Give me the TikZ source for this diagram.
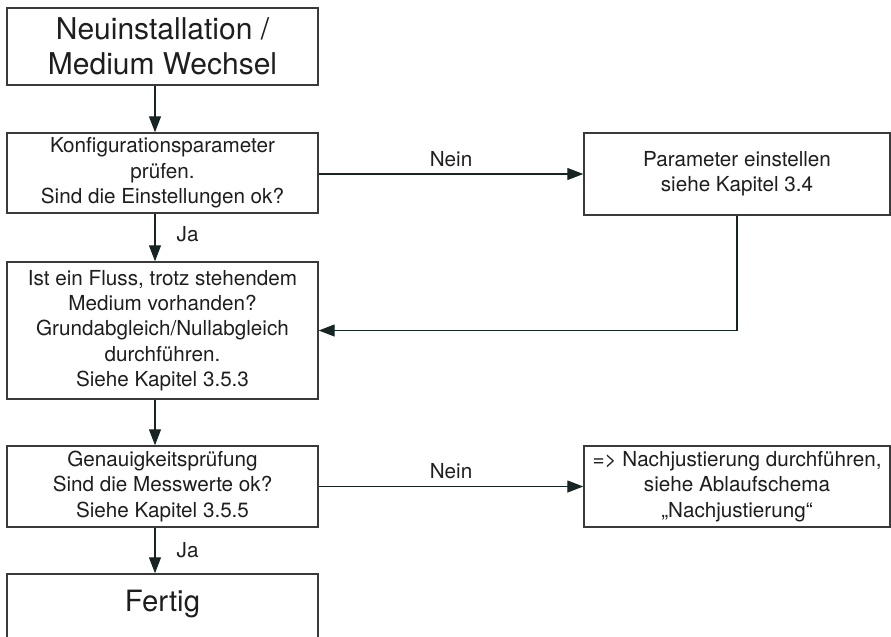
\documentclass[tikz,border=0pt]{standalone}
\usepackage{fontspec}
\setmainfont{TeX Gyre Heros}
\usetikzlibrary{arrows.meta}

\definecolor{linegray}{RGB}{22,36,36}
\definecolor{framegray}{RGB}{58,58,58}
\definecolor{textgray}{RGB}{30,30,30}

\begin{document}
\begin{tikzpicture}[x=0.75pt, y=-0.75pt,
    flow/.style={draw=linegray, line width=1pt,
        -{Triangle[length=12pt, width=9pt]}},
    stepbox/.style={draw=framegray, line width=1.1pt, fill=white,
        inner sep=0pt, align=center, text=textgray,
        font=\fontsize{15.5pt}{19pt}\selectfont, minimum width=233.25pt},
    big stepbox/.style={stepbox, font=\fontsize{22.5pt}{26.5pt}\selectfont},
    side stepbox/.style={stepbox, minimum width=229.5pt},
    answer/.style={font=\fontsize{15.5pt}{19pt}\selectfont, text=textgray,
        inner sep=0pt}
]
\path[use as bounding box] (0,0) rectangle (891,636);

% main column
\coordinate (col) at (155,0);

\node[big stepbox, minimum height=57.75pt] (start) at (162.5,46.5)
    {Neuinstallation /\\Medium Wechsel};
\node[stepbox, minimum height=60pt] (config) at (162.5,173)
    {Konfigurationsparameter\\prüfen.\\Sind die Einstellungen ok?};
\node[stepbox, minimum height=102.75pt] (flow-check) at (162.5,330.5)
    {Ist ein Fluss, trotz stehendem\\Medium vorhanden?\\
     Grundabgleich/Nullabgleich\\durchführen.\\Siehe Kapitel 3.5.3};
\node[stepbox, minimum height=60.75pt] (accuracy) at (162.5,486.5)
    {Genauigkeitsprüfung\\Sind die Messwerte ok?\\Siehe Kapitel 3.5.5};
\node[big stepbox, anchor=base, text height=27.75pt, text depth=37.5pt,
    font=\fontsize{22pt}{26pt}\selectfont] (done) at (162.5,611) {Fertig};

% side column
\node[side stepbox, minimum height=61.5pt] (param) at (737,174)
    {Parameter einstellen\\siehe Kapitel 3.4};
\node[side stepbox, minimum height=60.75pt] (readjust) at (737,486.5)
    {=> Nachjustierung durchführen,\\siehe Ablaufschema\\„Nachjustierung“};

% connectors
\draw[flow] (start.south -| col) -- (config.north -| col);
\draw[flow] (config.south -| col) --
    node[answer, pos=0.42, right=15.75pt] {Ja} (flow-check.north -| col);
\draw[flow] (flow-check.south -| col) -- (accuracy.north -| col);
\draw[flow] (accuracy.south -| col) --
    node[answer, midway, right=15.75pt] {Ja} (done.north -| col);

\draw[flow] (config.east |- param.west) --
    node[answer, midway, above=5pt] {Nein} (param.west);
\draw[flow] (param.south) -- (param.south |- flow-check.east) -- (flow-check.east);
\draw[flow] (accuracy.east |- readjust.west) --
    node[answer, midway, above=5pt] {Nein} (readjust.west);

\end{tikzpicture}
\end{document}
